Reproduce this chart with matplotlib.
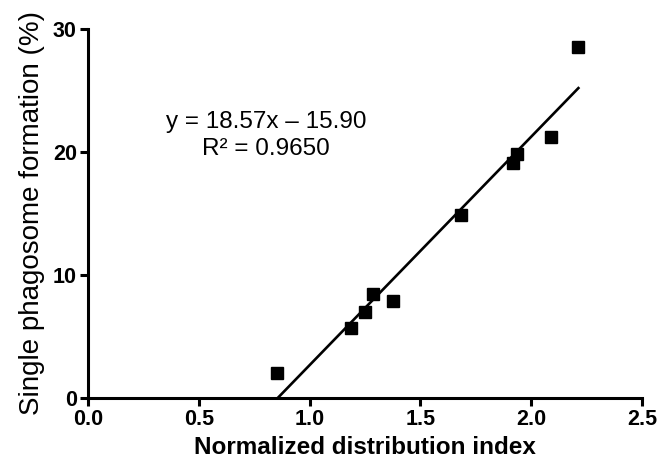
from matplotlib import pyplot as plt
import numpy as np

# values
ndi = [0.854, 1.187, 1.251, 1.285, 1.375, 1.682, 1.919, 1.934, 2.089, 2.213]
single_pct = [2.0, 5.67, 7.02, 8.43, 7.89, 14.88, 19.08, 19.84, 21.25, 28.56]
slope = 18.57
intercept = -15.90
r2 = 0.9650
xticks = [0.0, 0.5, 1.0, 1.5, 2.0, 2.5]
yticks = [0, 10, 20, 30]

plt.rcParams['font.family'] = ['Liberation Sans', 'DejaVu Sans']


def plot_fit():
    fig = plt.figure(figsize=(6.67, 4.69), dpi=100)
    ax = fig.add_axes([0.1319, 0.1514, 0.8306, 0.7868])

    ax.plot(ndi, single_pct, 's', color='black', markersize=8, clip_on=False)

    # regression line from x-intercept to last point
    x0 = -intercept / slope
    xs = np.array([x0, max(ndi)])
    ax.plot(xs, slope * xs + intercept, color='black', lw=1.9)

    ax.text(0.803, 21.95, 'y = 18.57x \u2013 15.90', ha='center', va='baseline', fontsize=17.5)
    ax.text(0.803, 19.76, 'R\u00b2 = %.4f' % r2, ha='center', va='baseline', fontsize=17.5)

    ax.set_xlim(0, 2.5)
    ax.set_ylim(0, 30)
    ax.set_xticks(xticks)
    ax.set_yticks(yticks)
    ax.set_xticklabels(['%.1f' % v for v in xticks], fontweight='bold', fontsize=15.5)
    ax.set_yticklabels([str(v) for v in yticks], fontweight='bold', fontsize=15.5)

    for side in ['top', 'right']:
        ax.spines[side].set_visible(False)
    for side in ['left', 'bottom']:
        ax.spines[side].set_linewidth(2.2)
    ax.tick_params(direction='out', length=5.5, width=2.2, pad=2.5)

    ax.set_xlabel('Normalized distribution index', fontweight='bold', fontsize=17.5, labelpad=4)
    ax.set_ylabel('Single phagosome formation (%)', fontsize=20, labelpad=6)

    fig.savefig('out.png', dpi=100)


if __name__ == '__main__':
    plot_fit()
